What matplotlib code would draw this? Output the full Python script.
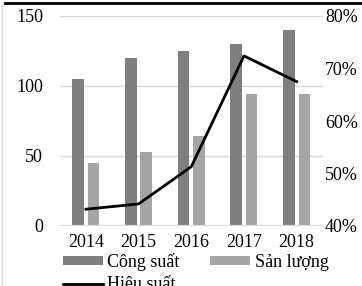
import numpy as np
import matplotlib
matplotlib.use('Agg')
import matplotlib.pyplot as plt
from matplotlib.lines import Line2D

plt.rcParams['font.family'] = ['Liberation Serif', 'DejaVu Serif']

# data
years = ['2014', '2015', '2016', '2017', '2018']
cong_suat = [105, 120, 125, 130, 140]
san_luong = [45, 53, 64, 94, 94.5]
hieu_suat = [43.2, 44.2, 51.3, 72.4, 67.5]   # percent

dark = '#7f7f7f'
light = '#a5a5a5'
grid_c = '#d9d9d9'
fs = 13

fig = plt.figure(figsize=(3.62, 2.86), dpi=100)
ax = fig.add_axes([59.6 / 362, 60 / 286, (323 - 59.6) / 362, 210 / 286])

x = np.arange(len(years))
w = 0.22
b1 = ax.bar(x - 0.148, cong_suat, w, color=dark, zorder=3)
b2 = ax.bar(x + 0.145, san_luong, w, color=light, zorder=3)

ax.set_xlim(-0.5, len(years) - 0.5)
ax.set_ylim(0, 150)
ax.set_yticks([0, 50, 100, 150])
for v in [50, 100, 150]:
    ax.axhline(v, color=grid_c, lw=1, zorder=1)
ax.axhline(0, color=grid_c, lw=1.6, zorder=4)
for s in ax.spines.values():
    s.set_visible(False)
ax.tick_params(axis='y', length=0, pad=12, labelsize=fs)
ax.set_xticks(x)
ax.set_xticklabels(years)
ax.tick_params(axis='x', length=0, pad=5.5, labelsize=fs)

ax2 = ax.twinx()
ln, = ax2.plot(x, hieu_suat, color='black', lw=2, zorder=5)
ax2.set_ylim(40, 80)
ax2.set_yticks([40, 50, 60, 70, 80])
ax2.set_yticklabels([f'{t}%' for t in [40, 50, 60, 70, 80]])
ax2.tick_params(axis='y', length=0, pad=1.5, labelsize=fs)
for s in ax2.spines.values():
    s.set_visible(False)

# legend: row1 Công suất / Sản lượng, row2 Hiệu suất (cut by the crop)
line_h = Line2D([], [], color='black', lw=2)
fig.legend([b1, line_h, b2], ['Công suất', 'Hiệu suất', 'Sản lượng'],
           ncol=2, loc='upper left', bbox_to_anchor=(63 / 362, 33 / 286),
           frameon=False, borderpad=0, borderaxespad=0, fontsize=fs,
           handlelength=2.2, handleheight=0.4, handletextpad=0.25,
           columnspacing=1.7, labelspacing=0.3)

# frame pieces visible at the crop edges
fig.add_artist(Line2D([5 / 362, 1], [283.5 / 286, 283.5 / 286], color='black', lw=2))
fig.add_artist(Line2D([2 / 362, 2 / 362], [0, 281 / 286], color='#d9d9d9', lw=1))

fig.savefig('out.png', dpi=100)
